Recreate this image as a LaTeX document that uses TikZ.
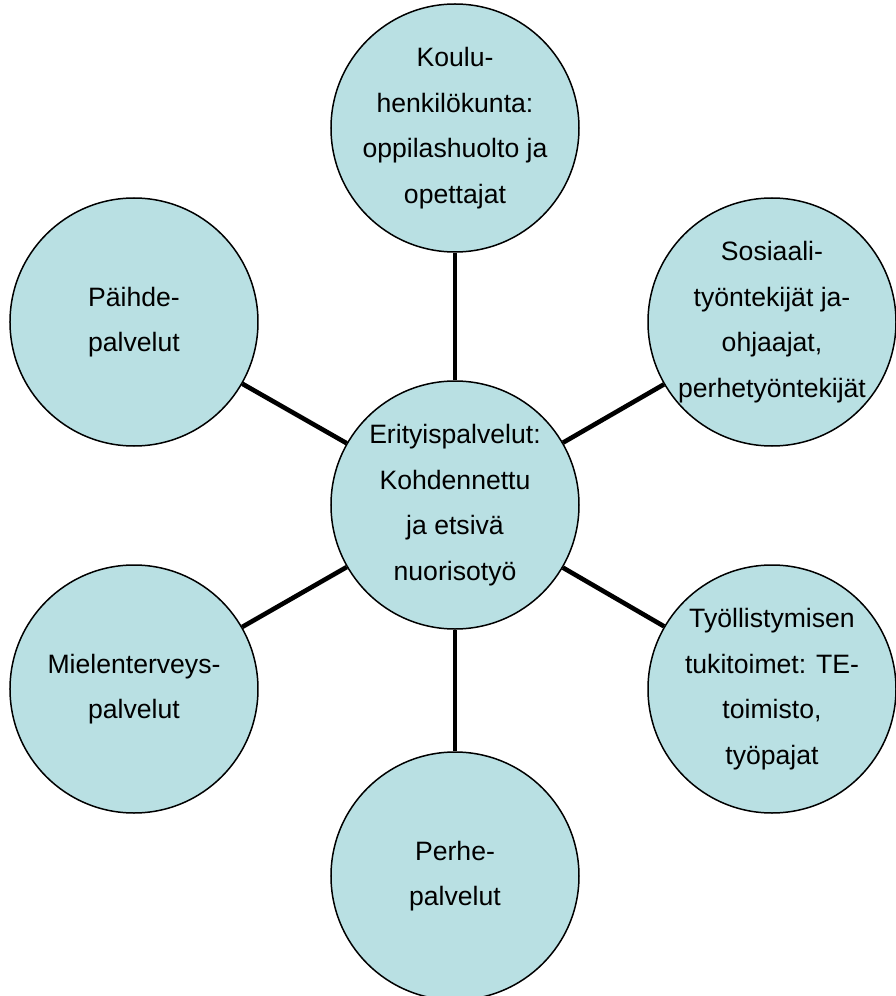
\documentclass[tikz,border=0pt]{standalone}
\usepackage{fontspec}
\setmainfont{Liberation Sans}
\definecolor{circleFill}{RGB}{185, 224, 227}
\usetikzlibrary{positioning}

\begin{document}
\begin{tikzpicture}[
    service/.style={circle, draw=black, line width=0.75pt, fill=circleFill,
                    minimum size=124pt, inner sep=0pt, align=center,
                    font=\fontsize{13.3pt}{22.8pt}\selectfont},
    link/.style={line width=2.3pt},
  ]
    \useasboundingbox (-227.5pt,-245.5pt) rectangle (220pt,252.5pt);

    \node[service] (center) at (0pt,0pt) {Erityispalvelut:\\Kohdennettu\\ja etsivä\\nuorisotyö};
    \node[service] (school) at (0pt,188.5pt) {Koulu-\\henkilökunta:\\oppilashuolto ja\\opettajat};
    \node[service] (social) at (158.5pt,91.5pt) {Sosiaali-\\työntekijät ja-\\ohjaajat,\\perhetyöntekijät};
    \node[service] (work) at (158.5pt,-92pt) {Työllistymisen\\tukitoimet: TE-\\toimisto,\\työpajat};
    \node[service] (family) at (0pt,-185.5pt) {Perhe-\\palvelut};
    \node[service] (mental) at (-160.5pt,-92pt) {Mielenterveys-\\palvelut};
    \node[service] (drugs) at (-160.5pt,91.5pt) {Päihde-\\palvelut};

    \foreach \other in {school, social, work, family, mental, drugs}
      \draw[link] (center) -- (\other);
  \end{tikzpicture}
\end{document}
